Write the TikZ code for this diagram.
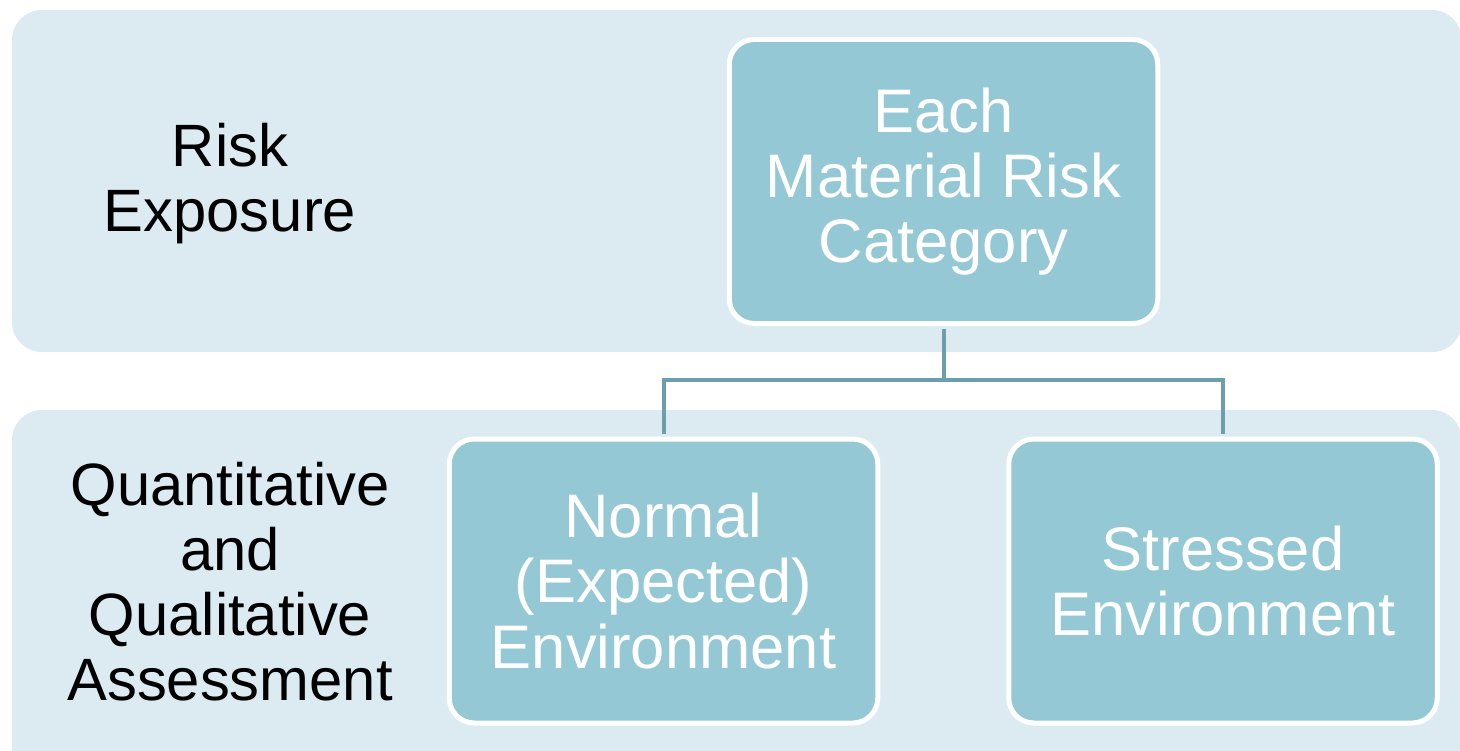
\documentclass[tikz,border=0pt]{standalone}
\usepackage{fontspec}
\setmainfont{Liberation Sans}
\usetikzlibrary{positioning}
\definecolor{bandblue}{HTML}{DBEBF1}
\definecolor{boxblue}{HTML}{94C8D4}
\definecolor{linkblue}{HTML}{6D9EAC}
\tikzset{
  band/.style={fill=bandblue,draw=none,rounded corners=0.6cm},
  riskbox/.style={fill=boxblue,draw=white,line width=0.1cm,rounded corners=0.5cm,
    minimum width=8.57cm,minimum height=5.68cm,inner sep=0pt,align=center,
    text=white,font=\fontsize{35}{37}\selectfont},
  rowlabel/.style={align=center,font=\fontsize{34}{37}\selectfont},
  link/.style={draw=linkblue,line width=0.08cm}
}

\begin{document}
\begin{tikzpicture}[x=0.2mm,y=-0.2mm]
    \useasboundingbox (0,0) rectangle (1460,750);
    \clip (0,0) rectangle (1460,750);
    % the two rows
    \draw[band] (12,10) rectangle (1462,352);
    \draw[band] (12,410) rectangle (1462,780);
    \node[rowlabel] (risk) at (230,184) {Risk\\Exposure};
    \node[rowlabel] (assess) at (230,582) {Quantitative\\and\\Qualitative\\Assessment};
    % the tree
    \node[riskbox] (cat) at (943.5,181.5) {Each\\Material Risk\\Category};
    \node[riskbox] (normal) at (663.5,581) {Normal\\(Expected)\\Environment};
    \node[riskbox] (stressed) at (1223,581) {Stressed\\Environment};
    \coordinate (split) at (943.5,380);
    \draw[link,shorten <=0.05cm] (cat.south) -- (split);
    \draw[link,shorten <=0.05cm,shorten >=0.05cm] (normal.north) |- (split) -| (stressed.north);
  \end{tikzpicture}
\end{document}
